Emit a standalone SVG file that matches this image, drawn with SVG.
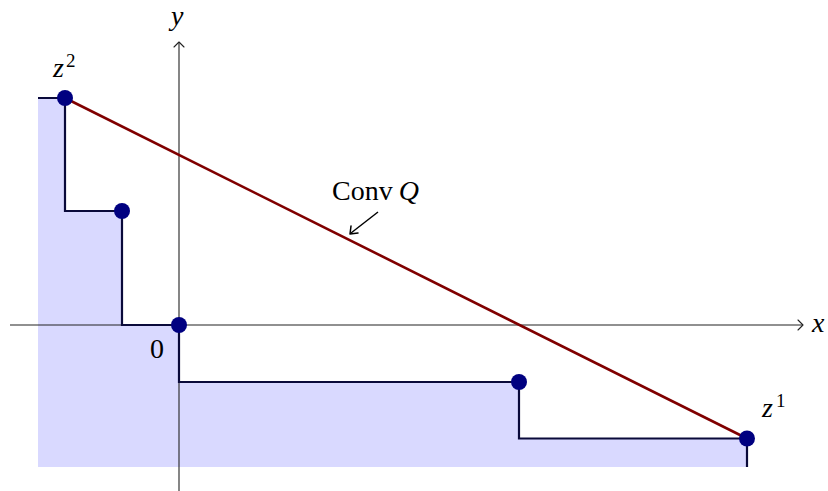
<svg xmlns="http://www.w3.org/2000/svg" width="828" height="491" viewBox="0 0 828 491">
<style>
text{font-family:"Liberation Serif","DejaVu Serif",serif;fill:#000}
.lbl{font-size:28px}
.it{font-style:italic}
.sup{font-size:19px}
.axis{stroke:#222;stroke-width:1.1;fill:none}
.tip{stroke:#222;stroke-width:1.1;fill:none;stroke-linecap:round;stroke-linejoin:round}
.dot{fill:#000080}
</style>
<rect width="828" height="491" fill="#fff"/>
<g id="region">
<polygon points="38,98 65,98 65,211 122,211 122,325 179,325 179,382 519,382 519,438.5 747,438.5 747,467 38,467" fill="#d9d9ff"/>
</g>
<g id="axes">
<line class="axis" x1="10" y1="325" x2="803" y2="325"/>
<path class="tip" d="M798,320 L803,325 L798,330"/>
<line class="axis" x1="179" y1="491" x2="179" y2="42"/>
<path class="tip" d="M174,47 L179,42 L184,47"/>
<text class="lbl it" x="812" y="332">x</text>
<text class="lbl it" x="171" y="25">y</text>
<text class="lbl" x="150" y="358">0</text>
</g>
<g id="connectors">
<polyline points="38,98 65,98 65,211 122,211 122,325 179,325 179,382 519,382 519,438.5 747,438.5 747,467" fill="none" stroke="#0a0a3a" stroke-width="2.2"/>
<line x1="65" y1="98" x2="747" y2="438.5" stroke="#800000" stroke-width="2.6"/>
<line x1="378" y1="212" x2="351" y2="233" stroke="#000" stroke-width="1.5"/>
<path d="M351,226 L350,234 L358,233" fill="none" stroke="#000" stroke-width="1.5" stroke-linecap="round" stroke-linejoin="round"/>
</g>
<g id="z2">
<circle class="dot" cx="65" cy="98" r="8"/>
<text class="lbl it" x="53" y="77">z</text>
<text class="sup" x="66" y="67">2</text>
</g>
<g id="p1">
<circle class="dot" cx="122" cy="211" r="8"/>
</g>
<g id="p0">
<circle class="dot" cx="179" cy="325" r="8"/>
</g>
<g id="p3">
<circle class="dot" cx="519" cy="382" r="8"/>
</g>
<g id="z1">
<circle class="dot" cx="747" cy="438.5" r="8"/>
<text class="lbl it" x="762" y="417">z</text>
<text class="sup" x="776" y="407">1</text>
</g>
<g id="convq">
<text class="lbl" x="332" y="200">Conv<tspan class="it" dx="6">Q</tspan></text>
</g>
</svg>
